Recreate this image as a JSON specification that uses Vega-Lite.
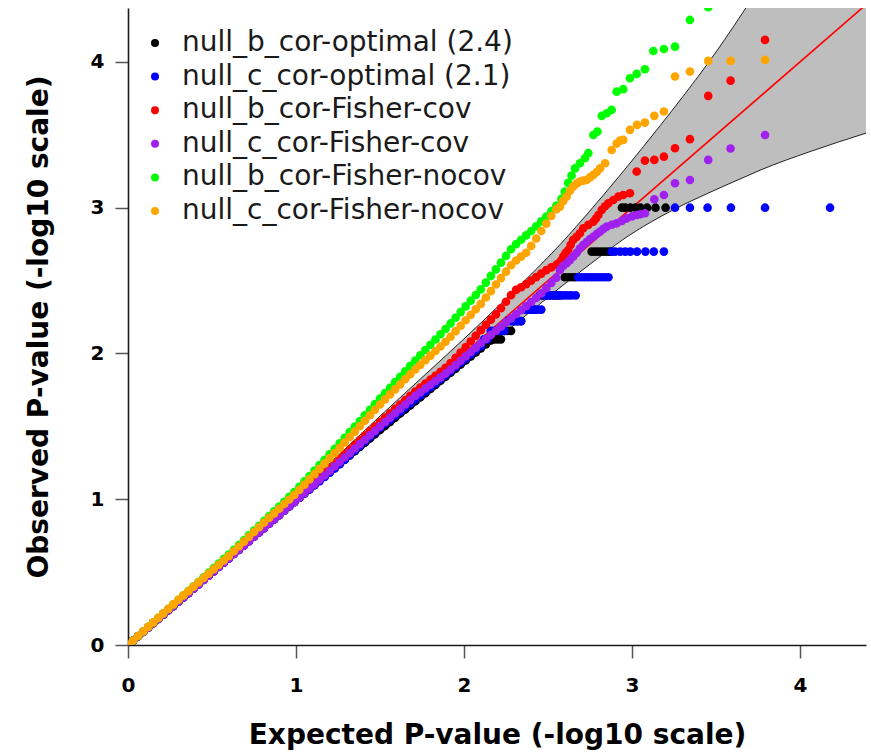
{
  "$schema": "https://vega.github.io/schema/vega-lite/v6.json",
  "width": 738,
  "height": 637,
  "autosize": {"type": "none"},
  "padding": {"left": 128, "top": 8, "right": 5, "bottom": 108},
  "background": "white",
  "config": {
    "view": {"stroke": null},
    "font": "DejaVu Sans",
    "axis": {
      "grid": false,
      "domainColor": "#1a1a1a",
      "domainWidth": 1.6,
      "tickColor": "#555555",
      "tickWidth": 1.5,
      "tickSize": 13,
      "tickCount": 5,
      "labelFont": "DejaVu Sans",
      "labelFontWeight": "bold",
      "labelFontSize": 20,
      "labelColor": "#000000",
      "labelFlush": false,
      "labelOverlap": false,
      "titleFont": "DejaVu Sans",
      "titleFontWeight": "bold",
      "titleFontSize": 28,
      "titleColor": "#000000"
    },
    "axisX": {"labelPadding": 17, "titlePadding": 26},
    "axisY": {"labelPadding": 11, "titlePadding": 37}
  },
  "datasets": {
    "band": [
      {"x": 0, "lo": 0, "hi": 0},
      {"x": 0.5, "lo": 0.485, "hi": 0.515},
      {"x": 1, "lo": 0.97, "hi": 1.035},
      {"x": 1.25, "lo": 1.205, "hi": 1.3},
      {"x": 1.5, "lo": 1.445, "hi": 1.57},
      {"x": 1.75, "lo": 1.68, "hi": 1.835},
      {"x": 2, "lo": 1.915, "hi": 2.1},
      {"x": 2.25, "lo": 2.15, "hi": 2.375},
      {"x": 2.5, "lo": 2.385, "hi": 2.66},
      {"x": 2.571, "lo": 2.451, "hi": 2.746},
      {"x": 2.768, "lo": 2.628, "hi": 3.003},
      {"x": 2.97, "lo": 2.8, "hi": 3.28},
      {"x": 3.167, "lo": 2.937, "hi": 3.562},
      {"x": 3.304, "lo": 3.019, "hi": 3.764},
      {"x": 3.446, "lo": 3.096, "hi": 3.981},
      {"x": 3.661, "lo": 3.206, "hi": 4.341},
      {"x": 3.762, "lo": 3.257, "hi": 4.522},
      {"x": 4.06, "lo": 3.385, "hi": 5.06},
      {"x": 4.4, "lo": 3.514, "hi": 5.7}
    ],
    "diag": [{"x": 0, "y": 0}, {"x": 4.5, "y": 4.5}],
    "pts": [
      {"x":0,"a":0,"b":0,"c":0,"d":0,"e":0,"f":0},
      {"x":0.03,"a":0.03,"b":0.03,"c":0.03,"d":0.03,"e":0.031,"f":0.031},
      {"x":0.06,"a":0.06,"b":0.06,"c":0.06,"d":0.06,"e":0.062,"f":0.062},
      {"x":0.09,"a":0.089,"b":0.089,"c":0.09,"d":0.089,"e":0.093,"f":0.093},
      {"x":0.12,"a":0.119,"b":0.119,"c":0.12,"d":0.119,"e":0.124,"f":0.124},
      {"x":0.15,"a":0.149,"b":0.149,"c":0.15,"d":0.149,"e":0.155,"f":0.155},
      {"x":0.18,"a":0.178,"b":0.178,"c":0.18,"d":0.178,"e":0.186,"f":0.186},
      {"x":0.21,"a":0.208,"b":0.208,"c":0.21,"d":0.208,"e":0.217,"f":0.217},
      {"x":0.24,"a":0.238,"b":0.238,"c":0.24,"d":0.238,"e":0.248,"f":0.248},
      {"x":0.27,"a":0.267,"b":0.267,"c":0.27,"d":0.267,"e":0.279,"f":0.279},
      {"x":0.3,"a":0.297,"b":0.297,"c":0.3,"d":0.297,"e":0.31,"f":0.31},
      {"x":0.33,"a":0.327,"b":0.327,"c":0.33,"d":0.327,"e":0.341,"f":0.34},
      {"x":0.36,"a":0.356,"b":0.356,"c":0.36,"d":0.356,"e":0.372,"f":0.37},
      {"x":0.39,"a":0.386,"b":0.386,"c":0.39,"d":0.386,"e":0.403,"f":0.4},
      {"x":0.42,"a":0.416,"b":0.416,"c":0.42,"d":0.416,"e":0.434,"f":0.43},
      {"x":0.45,"a":0.446,"b":0.446,"c":0.45,"d":0.446,"e":0.465,"f":0.46},
      {"x":0.48,"a":0.475,"b":0.475,"c":0.48,"d":0.475,"e":0.496,"f":0.49},
      {"x":0.51,"a":0.505,"b":0.505,"c":0.51,"d":0.505,"e":0.527,"f":0.52},
      {"x":0.54,"a":0.535,"b":0.535,"c":0.54,"d":0.535,"e":0.558,"f":0.55},
      {"x":0.57,"a":0.564,"b":0.564,"c":0.57,"d":0.564,"e":0.589,"f":0.58},
      {"x":0.6,"a":0.594,"b":0.594,"c":0.6,"d":0.594,"e":0.62,"f":0.61},
      {"x":0.63,"a":0.624,"b":0.624,"c":0.63,"d":0.624,"e":0.653,"f":0.643},
      {"x":0.66,"a":0.653,"b":0.653,"c":0.66,"d":0.653,"e":0.686,"f":0.676},
      {"x":0.69,"a":0.683,"b":0.683,"c":0.69,"d":0.683,"e":0.719,"f":0.709},
      {"x":0.72,"a":0.713,"b":0.713,"c":0.72,"d":0.713,"e":0.752,"f":0.742},
      {"x":0.75,"a":0.743,"b":0.743,"c":0.75,"d":0.743,"e":0.785,"f":0.775},
      {"x":0.78,"a":0.772,"b":0.772,"c":0.78,"d":0.772,"e":0.818,"f":0.808},
      {"x":0.81,"a":0.802,"b":0.802,"c":0.81,"d":0.802,"e":0.851,"f":0.84},
      {"x":0.84,"a":0.832,"b":0.832,"c":0.84,"d":0.832,"e":0.884,"f":0.872},
      {"x":0.87,"a":0.861,"b":0.861,"c":0.87,"d":0.861,"e":0.917,"f":0.903},
      {"x":0.9,"a":0.891,"b":0.891,"c":0.9,"d":0.891,"e":0.95,"f":0.935},
      {"x":0.93,"a":0.921,"b":0.921,"c":0.93,"d":0.921,"e":0.983,"f":0.967},
      {"x":0.96,"a":0.95,"b":0.95,"c":0.96,"d":0.95,"e":1.016,"f":0.998},
      {"x":0.99,"a":0.98,"b":0.98,"c":0.99,"d":0.98,"e":1.049,"f":1.03},
      {"x":1.02,"a":1.01,"b":1.009,"c":1.021,"d":1.01,"e":1.085,"f":1.064},
      {"x":1.05,"a":1.039,"b":1.038,"c":1.053,"d":1.041,"e":1.122,"f":1.1},
      {"x":1.08,"a":1.068,"b":1.067,"c":1.085,"d":1.072,"e":1.159,"f":1.136},
      {"x":1.11,"a":1.097,"b":1.096,"c":1.117,"d":1.102,"e":1.196,"f":1.172},
      {"x":1.14,"a":1.126,"b":1.124,"c":1.149,"d":1.133,"e":1.234,"f":1.208},
      {"x":1.17,"a":1.155,"b":1.153,"c":1.181,"d":1.163,"e":1.271,"f":1.244},
      {"x":1.2,"a":1.184,"b":1.182,"c":1.213,"d":1.194,"e":1.308,"f":1.28},
      {"x":1.23,"a":1.213,"b":1.211,"c":1.245,"d":1.225,"e":1.345,"f":1.316},
      {"x":1.26,"a":1.242,"b":1.24,"c":1.277,"d":1.255,"e":1.383,"f":1.352},
      {"x":1.29,"a":1.271,"b":1.272,"c":1.309,"d":1.286,"e":1.421,"f":1.39},
      {"x":1.32,"a":1.3,"b":1.303,"c":1.341,"d":1.316,"e":1.46,"f":1.427},
      {"x":1.35,"a":1.33,"b":1.334,"c":1.373,"d":1.347,"e":1.498,"f":1.464},
      {"x":1.38,"a":1.359,"b":1.365,"c":1.404,"d":1.378,"e":1.536,"f":1.501},
      {"x":1.41,"a":1.388,"b":1.396,"c":1.436,"d":1.408,"e":1.575,"f":1.538},
      {"x":1.44,"a":1.417,"b":1.428,"c":1.467,"d":1.439,"e":1.613,"f":1.576},
      {"x":1.47,"a":1.446,"b":1.459,"c":1.499,"d":1.469,"e":1.652,"f":1.613},
      {"x":1.5,"a":1.475,"b":1.49,"c":1.53,"d":1.5,"e":1.69,"f":1.65},
      {"x":1.53,"a":1.503,"b":1.518,"c":1.56,"d":1.53,"e":1.728,"f":1.685},
      {"x":1.56,"a":1.531,"b":1.546,"c":1.59,"d":1.56,"e":1.765,"f":1.719},
      {"x":1.59,"a":1.559,"b":1.573,"c":1.62,"d":1.59,"e":1.803,"f":1.754},
      {"x":1.62,"a":1.588,"b":1.601,"c":1.65,"d":1.62,"e":1.84,"f":1.788},
      {"x":1.65,"a":1.616,"b":1.629,"c":1.68,"d":1.65,"e":1.878,"f":1.823},
      {"x":1.68,"a":1.644,"b":1.657,"c":1.71,"d":1.68,"e":1.915,"f":1.857},
      {"x":1.71,"a":1.672,"b":1.684,"c":1.739,"d":1.709,"e":1.952,"f":1.891},
      {"x":1.74,"a":1.7,"b":1.712,"c":1.766,"d":1.734,"e":1.988,"f":1.922},
      {"x":1.77,"a":1.728,"b":1.74,"c":1.793,"d":1.76,"e":2.024,"f":1.954},
      {"x":1.8,"a":1.756,"b":1.768,"c":1.82,"d":1.785,"e":2.06,"f":1.985},
      {"x":1.83,"a":1.784,"b":1.795,"c":1.847,"d":1.811,"e":2.096,"f":2.017},
      {"x":1.86,"a":1.813,"b":1.823,"c":1.874,"d":1.836,"e":2.132,"f":2.048},
      {"x":1.89,"a":1.841,"b":1.851,"c":1.901,"d":1.862,"e":2.168,"f":2.08},
      {"x":1.92,"a":1.868,"b":1.879,"c":1.934,"d":1.89,"e":2.206,"f":2.115},
      {"x":1.95,"a":1.896,"b":1.908,"c":1.97,"d":1.92,"e":2.245,"f":2.153},
      {"x":1.98,"a":1.924,"b":1.936,"c":2.006,"d":1.95,"e":2.284,"f":2.19},
      {"x":2.01,"a":1.952,"b":1.965,"c":2.043,"d":1.98,"e":2.323,"f":2.228},
      {"x":2.04,"a":1.979,"b":1.993,"c":2.082,"d":2.01,"e":2.362,"f":2.265},
      {"x":2.07,"a":2.007,"b":2.022,"c":2.121,"d":2.04,"e":2.401,"f":2.303},
      {"x":2.1,"a":2.035,"b":2.05,"c":2.16,"d":2.07,"e":2.44,"f":2.34},
      {"x":2.13,"a":2.062,"c":2.196,"d":2.099,"e":2.486,"f":2.384},
      {"x":2.16,"a":2.09,"c":2.232,"d":2.127,"e":2.532,"f":2.428},
      {"x":2.19,"c":2.268,"d":2.156,"e":2.577,"f":2.473},
      {"x":2.22,"c":2.31,"d":2.184,"e":2.623,"f":2.517},
      {"x":2.25,"c":2.355,"d":2.213,"e":2.669,"f":2.561},
      {"x":2.28,"c":2.4,"d":2.241,"e":2.715,"f":2.605},
      {"x":2.31,"c":2.436,"d":2.269,"e":2.75,"f":2.638},
      {"x":2.34,"c":2.454,"d":2.297,"e":2.78,"f":2.664},
      {"x":2.37,"c":2.476,"d":2.325,"e":2.81,"f":2.691},
      {"x":2.4,"c":2.5,"d":2.353,"e":2.84,"f":2.738},
      {"x":2.43,"c":2.524,"d":2.381,"e":2.873,"f":2.789},
      {"x":2.46,"c":2.548,"d":2.412,"e":2.906,"f":2.84},
      {"x":2.49,"c":2.572,"d":2.448,"e":2.939,"f":2.891},
      {"x":2.52,"c":2.591,"d":2.484,"e":2.976,"f":2.943},
      {"x":2.55,"c":2.609,"d":2.52,"e":3.014,"f":2.989},

      {"x":2.18,"a":2.097},{"x":2.2,"a":2.097},{"x":2.22,"a":2.097},
      {"x":2.24,"a":2.155},{"x":2.26,"a":2.155},{"x":2.28,"a":2.155},
      {"x":2.3,"a":2.222},{"x":2.32,"a":2.222},{"x":2.34,"a":2.222},
      {"x":2.36,"a":2.301},{"x":2.38,"a":2.301},{"x":2.4,"a":2.301},{"x":2.42,"a":2.301},
      {"x":2.45,"a":2.398},{"x":2.47,"a":2.398},{"x":2.49,"a":2.398},{"x":2.51,"a":2.398},{"x":2.53,"a":2.398},{"x":2.55,"a":2.398},{"x":2.57,"a":2.398},
      {"x":2.6,"a":2.523},{"x":2.62,"a":2.523},{"x":2.64,"a":2.523},{"x":2.66,"a":2.523},
      {"x":2.76,"a":2.699},{"x":2.78,"a":2.699},{"x":2.8,"a":2.699},{"x":2.82,"a":2.699},{"x":2.84,"a":2.699},{"x":2.86,"a":2.699},{"x":2.875,"a":2.699},
      {"x":2.94,"a":3},{"x":2.96,"a":3},{"x":2.99,"a":3},{"x":3.02,"a":3},{"x":3.05,"a":3},{"x":3.09,"a":3},{"x":3.14,"a":3},{"x":3.2,"a":3},

      {"x":2.12,"b":2.097},{"x":2.14,"b":2.097},
      {"x":2.16,"b":2.155},{"x":2.18,"b":2.155},{"x":2.2,"b":2.155},{"x":2.22,"b":2.155},{"x":2.24,"b":2.155},
      {"x":2.26,"b":2.222},{"x":2.28,"b":2.222},{"x":2.3,"b":2.222},{"x":2.32,"b":2.222},{"x":2.34,"b":2.222},
      {"x":2.36,"b":2.301},{"x":2.38,"b":2.301},{"x":2.4,"b":2.301},{"x":2.42,"b":2.301},{"x":2.44,"b":2.301},{"x":2.46,"b":2.301},
      {"x":2.48,"b":2.398},{"x":2.5,"b":2.398},{"x":2.52,"b":2.398},{"x":2.54,"b":2.398},{"x":2.56,"b":2.398},{"x":2.58,"b":2.398},{"x":2.6,"b":2.398},{"x":2.62,"b":2.398},{"x":2.64,"b":2.398},{"x":2.665,"b":2.398},
      {"x":2.68,"b":2.523},{"x":2.7,"b":2.523},{"x":2.72,"b":2.523},{"x":2.74,"b":2.523},{"x":2.76,"b":2.523},{"x":2.78,"b":2.523},{"x":2.8,"b":2.523},{"x":2.82,"b":2.523},{"x":2.84,"b":2.523},{"x":2.86,"b":2.523},
      {"x":2.88,"b":2.699},{"x":2.9,"b":2.699},{"x":2.93,"b":2.699},{"x":2.96,"b":2.699},{"x":2.99,"b":2.699},{"x":3.03,"b":2.699},{"x":3.08,"b":2.699},{"x":3.13,"b":2.699},{"x":3.19,"b":2.699},
      {"x":3.256,"b":3},{"x":3.345,"b":3},{"x":3.45,"b":3},{"x":3.589,"b":3},{"x":3.792,"b":3},{"x":4.179,"b":3},

      {"x":2.571,"c":2.625},{"x":2.58,"c":2.64},{"x":2.591,"c":2.664},{"x":2.605,"c":2.69},{"x":2.62,"c":2.71},{"x":2.635,"c":2.745},{"x":2.65,"c":2.779},{"x":2.67,"c":2.8},{"x":2.69,"c":2.825},{"x":2.71,"c":2.859},{"x":2.74,"c":2.882},{"x":2.77,"c":2.904},{"x":2.785,"c":2.925},{"x":2.8,"c":2.95},{"x":2.82,"c":2.985},{"x":2.84,"c":3.01},{"x":2.859,"c":3.03},{"x":2.889,"c":3.053},{"x":2.919,"c":3.076},{"x":2.948,"c":3.087},{"x":2.988,"c":3.099},
      {"x":3.028,"c":3.248},{"x":3.077,"c":3.323},{"x":3.133,"c":3.328},{"x":3.19,"c":3.35},{"x":3.256,"c":3.408},{"x":3.345,"c":3.47},{"x":3.454,"c":3.767},{"x":3.587,"c":3.872},{"x":3.792,"c":4.151},

      {"x":2.571,"d":2.573},{"x":2.59,"d":2.6},{"x":2.611,"d":2.619},{"x":2.63,"d":2.64},{"x":2.65,"d":2.664},{"x":2.67,"d":2.69},{"x":2.69,"d":2.72},{"x":2.71,"d":2.744},{"x":2.73,"d":2.765},{"x":2.75,"d":2.785},{"x":2.77,"d":2.801},{"x":2.79,"d":2.82},{"x":2.81,"d":2.836},{"x":2.83,"d":2.855},{"x":2.85,"d":2.87},{"x":2.88,"d":2.883},{"x":2.909,"d":2.893},{"x":2.94,"d":2.91},{"x":2.968,"d":2.927},{"x":3,"d":2.94},{"x":3.028,"d":2.95},{"x":3.05,"d":2.955},{"x":3.077,"d":2.962},
      {"x":3.133,"d":3.058},{"x":3.19,"d":3.087},{"x":3.256,"d":3.168},{"x":3.345,"d":3.19},{"x":3.454,"d":3.328},{"x":3.587,"d":3.406},{"x":3.792,"d":3.499},

      {"x":2.58,"e":3.06},{"x":2.6,"e":3.11},{"x":2.62,"e":3.17},{"x":2.64,"e":3.22},{"x":2.661,"e":3.27},{"x":2.69,"e":3.305},{"x":2.72,"e":3.34},{"x":2.74,"e":3.374},{"x":2.77,"e":3.499},{"x":2.794,"e":3.522},{"x":2.82,"e":3.63},{"x":2.85,"e":3.648},{"x":2.879,"e":3.671},{"x":2.909,"e":3.796},{"x":2.948,"e":3.813},{"x":2.988,"e":3.888},{"x":3.028,"e":3.918},{"x":3.077,"e":3.95},{"x":3.127,"e":4.075},{"x":3.19,"e":4.089},{"x":3.256,"e":4.105},{"x":3.345,"e":4.288},{"x":3.454,"e":4.375},

      {"x":2.571,"f":3.007},{"x":2.59,"f":3.045},{"x":2.611,"f":3.076},{"x":2.63,"f":3.115},{"x":2.65,"f":3.145},{"x":2.67,"f":3.165},{"x":2.69,"f":3.18},{"x":2.71,"f":3.186},{"x":2.73,"f":3.19},{"x":2.75,"f":3.208},{"x":2.77,"f":3.225},{"x":2.79,"f":3.245},{"x":2.81,"f":3.27},{"x":2.84,"f":3.305},{"x":2.879,"f":3.396},{"x":2.909,"f":3.44},{"x":2.929,"f":3.46},{"x":2.948,"f":3.465},{"x":2.988,"f":3.534},{"x":3.03,"f":3.568},{"x":3.077,"f":3.584},{"x":3.133,"f":3.63},{"x":3.19,"f":3.66},{"x":3.256,"f":3.9},{"x":3.345,"f":3.934},{"x":3.454,"f":4.007},{"x":3.587,"f":4.007},{"x":3.792,"f":4.014}
    ]
  },
  "layer": [
    {
      "data": {"name": "band"},
      "mark": {"type": "area", "color": "#BEBEBE", "opacity": 1, "interpolate": "monotone", "clip": true},
      "encoding": {
        "x": {"field": "x", "type": "quantitative", "scale": {"domain": [0, 4.393], "nice": false, "zero": false}, "title": "Expected P-value (-log10 scale)"},
        "y": {"field": "lo", "type": "quantitative", "scale": {"domain": [0, 4.37], "nice": false, "zero": false}, "title": "Observed P-value (-log10 scale)"},
        "y2": {"field": "hi"}
      }
    },
    {
      "data": {"name": "band"},
      "mark": {"type": "line", "color": "#222222", "strokeWidth": 1, "interpolate": "monotone", "clip": true},
      "encoding": {
        "x": {"field": "x", "type": "quantitative", "title": "Expected P-value (-log10 scale)"},
        "y": {"field": "lo", "type": "quantitative", "title": "Observed P-value (-log10 scale)"}
      }
    },
    {
      "data": {"name": "band"},
      "mark": {"type": "line", "color": "#222222", "strokeWidth": 1, "interpolate": "monotone", "clip": true},
      "encoding": {
        "x": {"field": "x", "type": "quantitative", "title": "Expected P-value (-log10 scale)"},
        "y": {"field": "hi", "type": "quantitative", "title": "Observed P-value (-log10 scale)"}
      }
    },
    {
      "data": {"name": "diag"},
      "mark": {"type": "line", "color": "#FF0000", "strokeWidth": 1.6, "clip": true},
      "encoding": {
        "x": {"field": "x", "type": "quantitative", "title": "Expected P-value (-log10 scale)"},
        "y": {"field": "y", "type": "quantitative", "title": "Observed P-value (-log10 scale)"}
      }
    },
    {
      "data": {"name": "pts"},
      "transform": [
        {"fold": ["a", "b", "c", "d", "e", "f"], "as": ["s", "y"]},
        {"filter": "isValid(datum.y)"}
      ],
      "mark": {"type": "circle", "size": 75, "opacity": 1, "strokeWidth": 0, "clip": true},
      "encoding": {
        "x": {"field": "x", "type": "quantitative", "title": "Expected P-value (-log10 scale)"},
        "y": {"field": "y", "type": "quantitative", "title": "Observed P-value (-log10 scale)"},
        "order": {"field": "s", "type": "ordinal"},
        "color": {
          "field": "s",
          "type": "nominal",
          "scale": {"domain": ["a", "b", "c", "d", "e", "f"], "range": ["#000000", "#0000FF", "#FF0000", "#A020F0", "#00FF00", "#FFA500"]},
          "legend": {
            "title": null,
            "orient": "none",
            "legendX": 13,
            "legendY": 21,
            "padding": 0,
            "symbolType": "circle",
            "symbolSize": 64,
            "symbolStrokeWidth": 0,
            "symbolOpacity": 1,
            "labelFont": "DejaVu Sans",
            "labelFontSize": 28,
            "labelColor": "#1a1a1a",
            "labelLimit": 600,
            "labelOffset": 13,
            "rowPadding": 5.6,
            "labelExpr": "datum.label == 'a' ? 'null_b_cor-optimal (2.4)' : datum.label == 'b' ? 'null_c_cor-optimal (2.1)' : datum.label == 'c' ? 'null_b_cor-Fisher-cov' : datum.label == 'd' ? 'null_c_cor-Fisher-cov' : datum.label == 'e' ? 'null_b_cor-Fisher-nocov' : 'null_c_cor-Fisher-nocov'"
          }
        }
      }
    }
  ]
}
